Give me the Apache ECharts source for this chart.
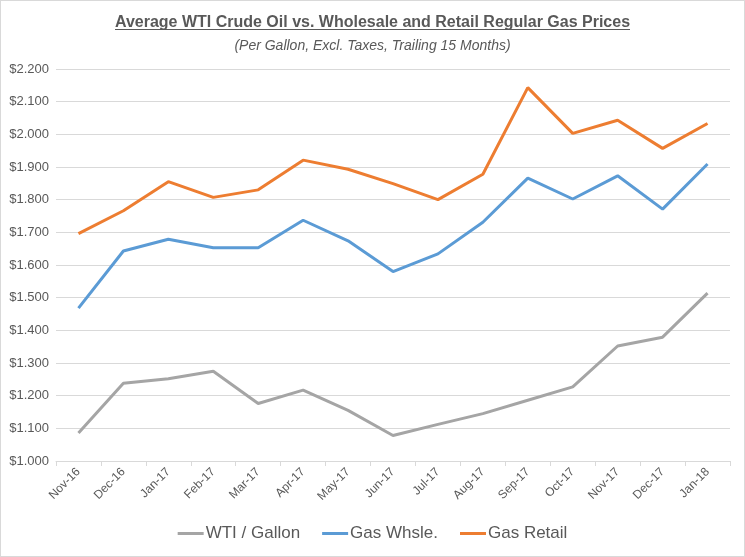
<!DOCTYPE html>
<html>
<head>
<meta charset="utf-8">
<script src="https://cdn.jsdelivr.net/npm/echarts@6/dist/echarts.min.js"></script>
<style>
html,body{margin:0;padding:0;background:#fff;}
#chart{width:743px;height:555px;border:1px solid #d9d9d9;}
</style>
</head>
<body>
<div id="chart"></div>
<script>
const categories = ["Nov-16","Dec-16","Jan-17","Feb-17","Mar-17","Apr-17","May-17","Jun-17","Jul-17","Aug-17","Sep-17","Oct-17","Nov-17","Dec-17","Jan-18"];
const wti = [1.086,1.238,1.252,1.275,1.176,1.217,1.155,1.078,1.112,1.145,1.186,1.227,1.352,1.379,1.514];
const whsle = [1.468,1.643,1.679,1.653,1.653,1.737,1.674,1.580,1.634,1.731,1.866,1.802,1.873,1.771,1.909];
const retail = [1.696,1.766,1.855,1.807,1.830,1.921,1.893,1.849,1.800,1.878,2.143,2.003,2.043,1.957,2.033];
const seriesNames = ["WTI / Gallon","Gas Whsle.","Gas Retail"];
const titleText = "Average WTI Crude Oil vs. Wholesale and Retail Regular Gas Prices";
const subtitleText = "(Per Gallon, Excl. Taxes, Trailing 15 Months)";

const font = "'Liberation Sans',Arial,sans-serif";
const titleSize = 16;
const ctx = document.createElement('canvas').getContext('2d');
ctx.font = 'bold ' + titleSize + 'px ' + font;
const tw = ctx.measureText(titleText).width;
const cw = 743;
const ux1 = Math.round(cw/2 - tw/2), ux2 = Math.round(cw/2 + tw/2);

const chart = echarts.init(document.getElementById('chart'));
const mk = (name, data, color) => ({
  name, type:'line', data, showSymbol:false, symbol:'none',
  lineStyle:{color, width:3}, itemStyle:{color}
});
chart.setOption({
  animation:false,
  title:{
    text:titleText, subtext:subtitleText, left:'center', top:9, itemGap:8,
    textStyle:{fontFamily:font, fontSize:titleSize, fontWeight:'bold', color:'#595959'},
    subtextStyle:{fontFamily:font, fontSize:14, fontStyle:'italic', color:'#595959'}
  },
  graphic:[{type:'line', shape:{x1:ux1, y1:28.5, x2:ux2, y2:28.5}, style:{stroke:'#595959', lineWidth:1}}],
  grid:{left:55, right:14, top:68, bottom:95},
  legend:{
    bottom:9, left:'center', itemWidth:26, itemHeight:3, itemGap:22,
    icon:'rect',
    textStyle:{fontFamily:font, fontSize:17, color:'#595959', padding:[0,0,0,-3]},
    data:seriesNames
  },
  xAxis:{
    type:'category', data:categories, boundaryGap:true,
    axisLine:{lineStyle:{color:'#d9d9d9'}},
    axisTick:{show:true, length:5, lineStyle:{color:'#d9d9d9'}},
    axisLabel:{rotate:45, fontFamily:font, fontSize:12, color:'#595959', margin:9, interval:0}
  },
  yAxis:{
    type:'value', min:1.0, max:2.2, interval:0.1,
    axisLine:{show:false}, axisTick:{show:false},
    splitLine:{lineStyle:{color:'#d9d9d9'}},
    axisLabel:{fontFamily:font, fontSize:13, color:'#595959', margin:7,
      formatter:v=>'$'+v.toFixed(3)}
  },
  series:[
    mk(seriesNames[0], wti, '#A5A5A5'),
    mk(seriesNames[1], whsle, '#5B9BD5'),
    mk(seriesNames[2], retail, '#ED7D31')
  ]
});
</script>
</body>
</html>
